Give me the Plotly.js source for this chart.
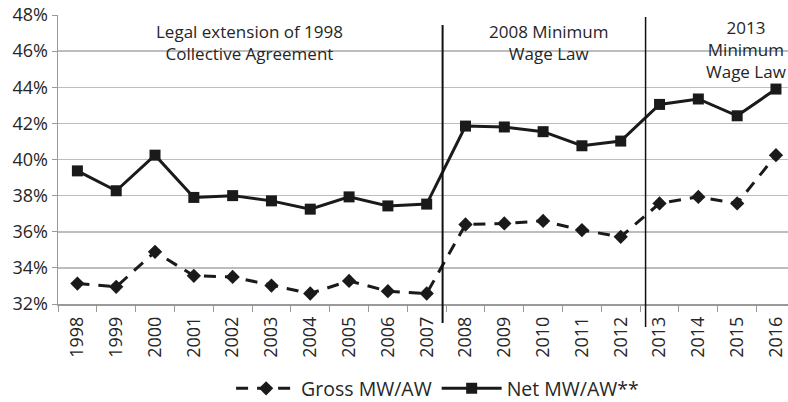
<!DOCTYPE html>
<html><head><meta charset="utf-8">
<script src="https://cdn.plot.ly/plotly-3.0.1.min.js"></script>
<style>html,body{margin:0;padding:0;background:#fff}#chart{width:788px;height:402px}</style>
</head><body><div id="chart"></div>
<script>
const years = ['1998','1999','2000','2001','2002','2003','2004','2005','2006','2007','2008','2009','2010','2011','2012','2013','2014','2015','2016'];
const grossMWAW = [33.13,32.95,34.89,33.56,33.50,33.02,32.58,33.28,32.71,32.58,36.40,36.46,36.60,36.09,35.72,37.57,37.93,37.57,40.24];
const netMWAW = [39.37,38.27,40.24,37.90,38.00,37.71,37.25,37.93,37.43,37.53,41.85,41.80,41.54,40.76,41.02,43.05,43.35,42.42,43.90];
const yTicks = [32,34,36,38,40,42,44,46,48];
const yTickLabels = yTicks.map(v => v + '%');
const periodBreaks = [9.41, 14.64];
const periodLabels = ['Legal extension of 1998<br>Collective Agreement', '2008 Minimum<br>Wage Law', '2013<br>Minimum<br>Wage Law'];

const xRange = [-0.5, 18.31];
const toPaper = v => (v - xRange[0]) / (xRange[1] - xRange[0]);
const font = {family: 'Open Sans, Noto Sans, sans-serif', color: '#262626'};
const traces = [
  {x: years, y: grossMWAW, name: 'Gross MW/AW', type: 'scatter', mode: 'lines+markers',
   line: {color: '#1a1a1a', width: 3, dash: '12px,9px'},
   marker: {symbol: 'diamond', size: 11, color: '#1a1a1a'}, cliponaxis: false},
  {x: years, y: netMWAW, name: 'Net MW/AW**', type: 'scatter', mode: 'lines+markers',
   line: {color: '#1a1a1a', width: 3},
   marker: {symbol: 'square', size: 11, color: '#1a1a1a'}, cliponaxis: false}
];
const layout = {
  width: 788, height: 402,
  margin: {l: 58, r: 0, t: 15, b: 98, autoexpand: false},
  paper_bgcolor: '#fff', plot_bgcolor: '#fff',
  font: Object.assign({size: 16}, font),
  showlegend: true,
  legend: {orientation: 'h', x: 0.52, xanchor: 'center', y: -0.293, yanchor: 'middle',
           font: Object.assign({size: 19.5}, font), itemwidth: 60, tracegroupgap: 0},
  xaxis: {type: 'category', range: xRange, showgrid: false, automargin: false,
          showline: true, linecolor: '#9a9a9a', linewidth: 1.5,
          ticks: 'outside', tickson: 'boundaries', ticklen: 6, tickcolor: '#9a9a9a',
          ticklabelstandoff: 4,
          tickangle: -90, tickfont: Object.assign({size: 18}, font), zeroline: false},
  yaxis: {range: [32, 48], tickvals: yTicks, ticktext: yTickLabels, automargin: false,
          showgrid: true, gridcolor: '#bdbdbd', gridwidth: 1.5,
          showline: true, linecolor: '#9a9a9a', linewidth: 1.5,
          ticks: 'outside', ticklen: 5, tickcolor: '#9a9a9a',
          tickfont: Object.assign({size: 18}, font), zeroline: false},
  shapes: [
    {type: 'line', xref: 'paper', yref: 'paper', x0: toPaper(periodBreaks[0]), x1: toPaper(periodBreaks[0]), y0: -0.066, y1: 0.965,
     line: {color: '#111', width: 2}},
    {type: 'line', xref: 'paper', yref: 'paper', x0: toPaper(periodBreaks[1]), x1: toPaper(periodBreaks[1]), y0: -0.08, y1: 0.993,
     line: {color: '#111', width: 1.5}}
  ],
  annotations: [
    {text: periodLabels[0], xref: 'paper', yref: 'paper', x: (250-58)/730, y: 1 - (42-15)/289,
     showarrow: false, font: Object.assign({size: 17}, font), align: 'center', xanchor: 'center', yanchor: 'middle'},
    {text: periodLabels[1], xref: 'paper', yref: 'paper', x: (549-58)/730, y: 1 - (42-15)/289,
     showarrow: false, font: Object.assign({size: 17}, font), align: 'center', xanchor: 'center', yanchor: 'middle'},
    {text: periodLabels[2], xref: 'paper', yref: 'paper', x: (746-58)/730, y: 1 - (50-15)/289,
     showarrow: false, font: Object.assign({size: 17}, font), align: 'center', xanchor: 'center', yanchor: 'middle'}
  ]
};
Plotly.newPlot('chart', traces, layout, {displayModeBar: false, staticPlot: true});
</script></body></html>
